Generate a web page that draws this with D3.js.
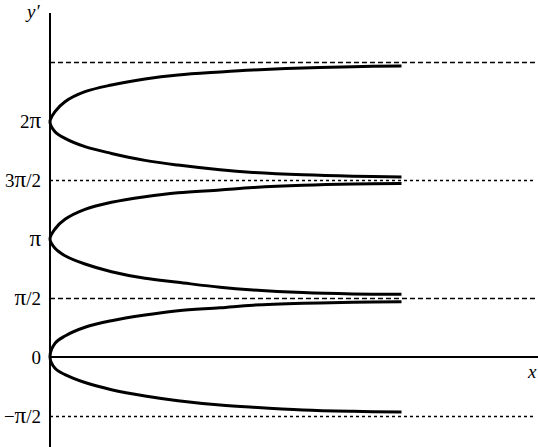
<!DOCTYPE html>
<html>
<head>
<meta charset="utf-8">
<script src="https://cdn.jsdelivr.net/npm/d3@7"></script>
<style>
  html, body { margin: 0; padding: 0; background: #fff; }
  svg { display: block; }
  text { font-family: "Liberation Serif", "DejaVu Serif", serif; fill: #000; }
</style>
</head>
<body>
<div id="chart"></div>
<script>
(() => {
  "use strict";

  // x positions (arbitrary units) shared by the readings below
  const xs = [0, 0.1, 0.3, 0.7, 1.23, 1.9, 2.56, 3.4, 4.06, 5.06, 6.06, 7.03];

  // y' values (radians); each branch starts at its vertex
  const upper2pi = [6.265, 6.531, 6.797, 7.063, 7.242, 7.401, 7.508, 7.588, 7.641, 7.695, 7.730, 7.750];
  const lower2pi = [6.265, 6.000, 5.820, 5.600, 5.420, 5.235, 5.110, 4.985, 4.915, 4.850, 4.812, 4.792];
  const upperPi  = [3.142, 3.408, 3.666, 3.932, 4.119, 4.268, 4.374, 4.446, 4.510, 4.570, 4.603, 4.616];
  const lowerPi  = [3.142, 2.894, 2.697, 2.476, 2.271, 2.095, 1.989, 1.856, 1.784, 1.715, 1.680, 1.668];
  const upper0   = [0, 0.365, 0.559, 0.791, 0.966, 1.118, 1.233, 1.310, 1.380, 1.430, 1.456, 1.472];
  const lower0   = [0, -0.300, -0.470, -0.680, -0.870, -1.038, -1.163, -1.278, -1.339, -1.411, -1.446, -1.464];

  const curves = [[upper2pi, lower2pi], [upperPi, lowerPi], [upper0, lower0]];

  // tick labels on the y' axis, split around the pi glyph
  const tickValues = [-Math.PI / 2, 0, Math.PI / 2, Math.PI, 3 * Math.PI / 2, 2 * Math.PI];
  const tickLabels = [["\u2212", "\u03c0", "/2"], ["0", "", ""], ["", "\u03c0", "/2"],
                      ["", "\u03c0", ""], ["3", "\u03c0", "/2"], ["2", "\u03c0", ""]];

  // dashed reference lines (asymptotes)
  const guideValues = [-Math.PI / 2, Math.PI / 2, 3 * Math.PI / 2, 5 * Math.PI / 2];
  const guideDash   = ["3,3", "5,3", "3,3", "5,3"];

  const width = 538, height = 447;
  const originX = 50, originY = 357;

  const x = d3.scaleLinear().domain([0, 9.76]).range([originX, 538]);
  const pxPerRad = 118 / Math.PI;
  const y = d3.scaleLinear().domain([0, 1]).range([originY, originY - pxPerRad]);

  const svg = d3.select("#chart").append("svg")
    .attr("width", width).attr("height", height);

  // guides
  svg.append("g").selectAll("line")
    .data(guideValues)
    .join("line")
    .attr("x1", x(0)).attr("x2", 536)
    .attr("y1", d => Math.round(y(d)) + 0.5).attr("y2", d => Math.round(y(d)) + 0.5)
    .attr("stroke", "#000")
    .attr("stroke-width", 1.5)
    .attr("stroke-dasharray", (d, i) => guideDash[i]);

  // axes
  svg.append("line")
    .attr("x1", originX).attr("x2", originX)
    .attr("y1", 13).attr("y2", height)
    .attr("stroke", "#000").attr("stroke-width", 2);
  svg.append("line")
    .attr("x1", originX).attr("x2", width)
    .attr("y1", originY).attr("y2", originY)
    .attr("stroke", "#000").attr("stroke-width", 2);

  // curves: lower branch reversed, then upper branch from the vertex
  const line = d3.line()
    .x(d => x(d[0]))
    .y(d => y(d[1]))
    .curve(d3.curveCatmullRom.alpha(0.5));

  svg.append("g").selectAll("path")
    .data(curves)
    .join("path")
    .attr("d", ([up, lo]) => {
      const pts = lo.map((v, i) => [xs[i], v]).reverse()
        .concat(up.slice(1).map((v, i) => [xs[i + 1], v]));
      return line(pts);
    })
    .attr("fill", "none")
    .attr("stroke", "#000")
    .attr("stroke-width", 3)
    .attr("stroke-linejoin", "round");

  // tick labels
  const labels = svg.append("g").selectAll("text")
    .data(tickValues)
    .join("text")
    .attr("x", 41)
    .attr("y", d => y(d))
    .attr("dy", "0.35em")
    .attr("text-anchor", "end")
    .style("font-size", "19px");
  labels.each(function (d, i) {
    const [pre, pi, post] = tickLabels[i];
    const t = d3.select(this);
    if (pre) t.append("tspan").text(pre);
    if (pi) t.append("tspan").style("font-size", "23px").text(pi);
    if (post) t.append("tspan").text(post);
  });

  // axis names
  svg.append("text")
    .attr("x", 27).attr("y", 18)
    .style("font-size", "19px").style("font-style", "italic")
    .text("y\u2032");
  svg.append("text")
    .attr("x", 528).attr("y", 378)
    .style("font-size", "19px").style("font-style", "italic")
    .text("x");
})();
</script>
</body>
</html>
